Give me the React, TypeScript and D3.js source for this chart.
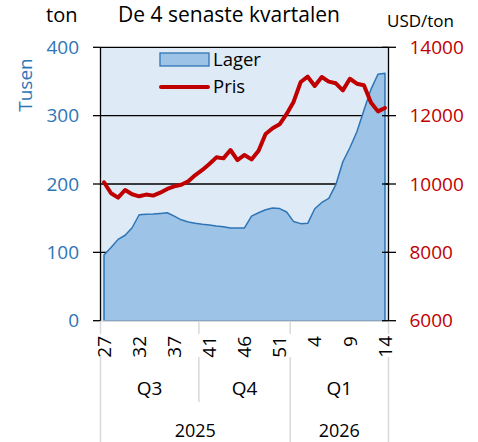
import React from "react";
import * as d3 from "d3";

// ---- data ----
const weeks: string[] = [
  "27","28","29","30","31","32","33","34","35","36","37","38","39","39",
  "40","41","42","43","44","45","46","47","48","49","50","51","52",
  "1","2","3","4","5","6","7","8","9","10","11","12","13","14",
];
const quarters = [
  { label: "Q3", start: 0, end: 13 },
  { label: "Q4", start: 14, end: 26 },
  { label: "Q1", start: 27, end: 40 },
];
const years = [
  { label: "2025", start: 0, end: 26 },
  { label: "2026", start: 27, end: 40 },
];
// Lager, thousand tonnes (left axis)
const lager: number[] = [
  96, 107, 119, 125, 136, 155, 155.6, 156, 157, 158, 153, 147.6, 144.4, 142.5,
  141, 140, 138.6, 137.6, 135.7, 135.7, 135.7, 153, 158, 162.4, 165, 164, 159,
  145, 142, 142.5, 163.8, 173, 179, 199, 232.6, 253, 276.5, 308, 338.5, 360.5, 362,
];
// Pris, USD/ton (right axis)
const pris: number[] = [
  10050, 9728, 9600, 9825, 9700, 9640, 9690, 9660, 9745, 9855, 9930, 9980, 10080, 10263,
  10410, 10585, 10780, 10750, 10995, 10700, 10850, 10720, 10975, 11463, 11630, 11747, 12050,
  12410, 12985, 13140, 12870, 13130, 12995, 12946, 12740, 13080, 12935, 12890, 12385, 12125, 12225,
];
const leftTicks = [0, 100, 200, 300, 400];
const rightTicks = [6000, 8000, 10000, 12000, 14000];

const FONT = "'Open Sans', 'DejaVu Sans', sans-serif";
const BLUE = "#2E75B6";
const RED = "#C00000";

export default function App() {
  const W = 478, H = 442;
  const left = 100.5, right = 388.5, top = 47.3, bottom = 320.7;
  const idx = weeks.map((_, i) => i);
  const x = d3.scalePoint<number>().domain(idx).range([left, right]).padding(0.5);
  const step = x.step();
  const yL = d3.scaleLinear().domain([0, 400]).range([bottom, top]);
  const yR = d3.scaleLinear().domain([6000, 14000]).range([bottom, top]);

  const areaPath = d3.area<number>()
    .x((_, i) => x(i)!)
    .y0(yL(0))
    .y1((d) => yL(d))(lager)!;
  const linePath = d3.line<number>()
    .x((_, i) => x(i)!)
    .y((d) => yR(d))(pris)!;

  const bx = (i: number) => x(i)! + step / 2; // boundary after category i
  const qBounds = [left, bx(quarters[0].end), bx(quarters[1].end), right];
  const fullLines = [left, bx(years[0].end), right];

  return (
    <svg width={W} height={H} style={{ display: "block", position: "absolute", left: 0, top: 0 }} fontFamily={FONT}>
      <rect x={0} y={0} width={W} height={H} fill="#fff" />
      {/* plot background */}
      <rect x={left} y={top} width={right - left} height={bottom - top} fill="#DEEBF7" />
      {/* gridlines + ticks */}
      {leftTicks.map((t) => (
        <line key={"g" + t} x1={93} x2={left} y1={yL(t)} y2={yL(t)} stroke="#000" strokeWidth={1.3} />
      ))}
      {leftTicks.filter((t) => t > 0).map((t) => (
        <line key={"gl" + t} x1={left} x2={right} y1={yL(t)} y2={yL(t)} stroke="#000" strokeWidth={1.3} />
      ))}
      {/* area */}
      <path d={areaPath + "Z"} fill="#9DC3E6" stroke={BLUE} strokeWidth={1.5} strokeLinejoin="round" />
      {/* category axis line */}
      <line x1={left} x2={right} y1={bottom + 0.5} y2={bottom + 0.5} stroke="#D9D9D9" strokeWidth={1.5} />
      {/* axes */}
      <line x1={left} x2={left} y1={top} y2={bottom} stroke="#000" strokeWidth={1.3} />
      <line x1={right} x2={right} y1={top} y2={bottom} stroke="#000" strokeWidth={1.3} />
      {rightTicks.map((t) => (
        <line key={"r" + t} x1={382} x2={396} y1={yR(t)} y2={yR(t)} stroke="#000" strokeWidth={1.3} />
      ))}
      {/* price line */}
      <path d={linePath} fill="none" stroke={RED} strokeWidth={4} strokeLinejoin="round" strokeLinecap="round" />

      {/* legend */}
      <rect x={160} y={53} width={49} height={13} fill="#9DC3E6" stroke={BLUE} strokeWidth={1.3} />
      <text x={213} y={66} fontSize={18.5} fill="#000">Lager</text>
      <line x1={161} x2={208} y1={87} y2={87} stroke={RED} strokeWidth={4} strokeLinecap="round" />
      <text x={213} y={93} fontSize={18.5} fill="#000">Pris</text>

      {/* left axis labels */}
      {leftTicks.map((t) => (
        <text key={"lt" + t} x={79} y={yL(t)} dy="0.35em" textAnchor="end" fontSize={19} fill={BLUE}>{t}</text>
      ))}
      {rightTicks.map((t) => (
        <text key={"rt" + t} x={409.5} y={yR(t)} dy="0.35em" textAnchor="start" fontSize={19} fill={RED}>{t}</text>
      ))}
      <text transform="translate(25,85) rotate(-90)" dy="0.35em" textAnchor="middle" fontSize={19} fill={BLUE}>Tusen</text>
      <text x={46} y={21.7} fontSize={20} fill="#000">ton</text>
      <text x={387} y={26.5} fontSize={17} fill="#000">USD/ton</text>
      <text x={229} y={21.7} textAnchor="middle" fontSize={21} fill="#000">De 4 senaste kvartalen</text>

      {/* category axis division lines */}
      {qBounds.map((bxv, i) => (
        <line key={"qt" + i} x1={bxv} x2={bxv} y1={bottom + 1} y2={334} stroke="#D9D9D9" strokeWidth={1.5} />
      ))}
      {qBounds.map((bxv, i) => {
        const full = fullLines.some((f) => Math.abs(f - bxv) < 0.01);
        return <line key={"ql" + i} x1={bxv} x2={bxv} y1={357} y2={full ? H : 402} stroke="#D9D9D9" strokeWidth={1.5} />;
      })}
      {/* week labels */}
      {weeks.map((w, i) => (i % 5 === 0 ? (
        <text key={"w" + i} transform={`translate(${x(i)},336) rotate(-90)`} dy="0.35em" textAnchor="end" fontSize={19} fill="#000">{w}</text>
      ) : null))}
      {quarters.map((q) => (
        <text key={q.label} x={(x(q.start)! - step / 2 + x(q.end)! + step / 2) / 2} y={395} textAnchor="middle" fontSize={19} fill="#000">{q.label}</text>
      ))}
      {years.map((yv) => (
        <text key={yv.label} x={(x(yv.start)! - step / 2 + x(yv.end)! + step / 2) / 2} y={436.5} textAnchor="middle" fontSize={18} fill="#000">{yv.label}</text>
      ))}
    </svg>
  );
}
